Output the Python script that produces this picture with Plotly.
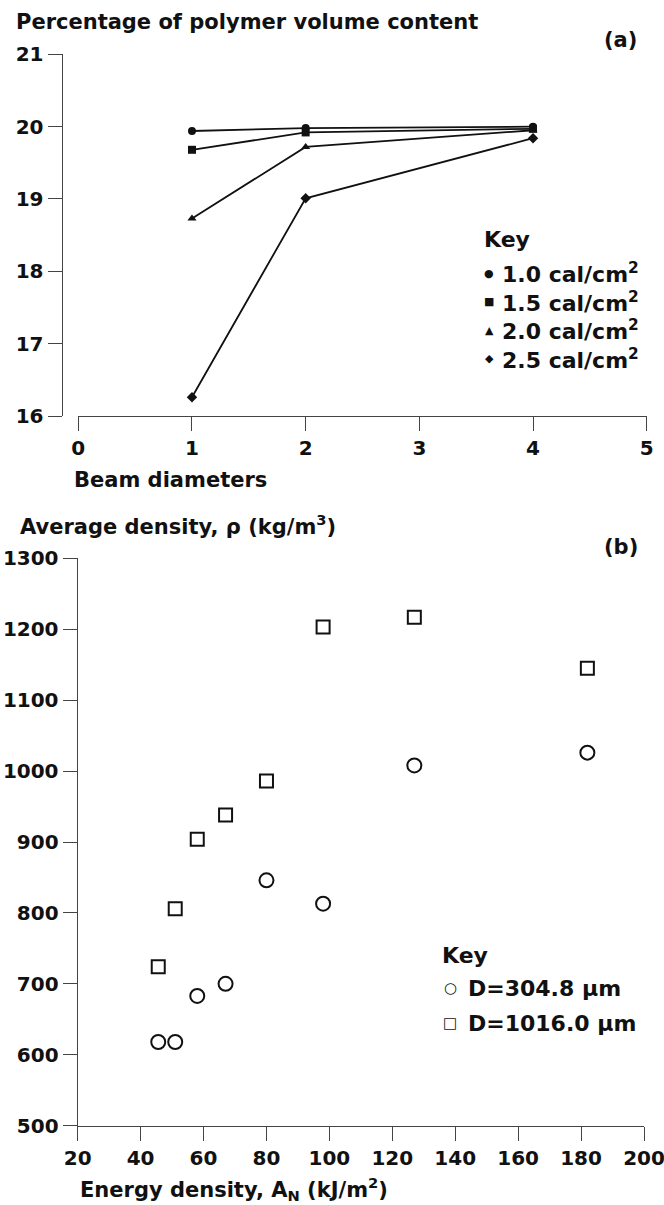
import plotly.graph_objects as go

W, H = 664, 1205
FONT = "DejaVu Sans"
INK = "#111111"
AXIS = "#444444"

# ---- (a) polymer volume content against beam diameters ----
beam_diameters = [1, 2, 4]
fluence_labels = ["1.0 cal/cm<sup>2</sup>", "1.5 cal/cm<sup>2</sup>",
                  "2.0 cal/cm<sup>2</sup>", "2.5 cal/cm<sup>2</sup>"]
volume_1_0 = [19.94, 19.98, 20.00]
volume_1_5 = [19.68, 19.92, 19.97]
volume_2_0 = [18.73, 19.72, 19.95]
volume_2_5 = [16.26, 19.01, 19.84]
symbols_a = ["circle", "square", "triangle-up", "diamond"]
glyphs_a = ["\u25CF", "\u25A0", "\u25B2", "\u25C6"]
sizes_a = [8, 8, 8, 8]

# ---- (b) average density against energy density ----
energy_density = [45.6, 51.0, 58.0, 67.0, 80.0, 98.0, 127.0, 182.0]
density_304 = [618, 618, 683, 700, 846, 813, 1008, 1026]
density_1016 = [724, 806, 904, 938, 986, 1203, 1217, 1145]
diameter_labels = ["D=304.8 \u00b5m", "D=1016.0 \u00b5m"]
glyphs_b = ["\u25CB", "\u25A1"]


def fx(px):
    return px / W


def fy(py):
    return 1 - py / H


fig = go.Figure()

for vals, sym, size in zip([volume_1_0, volume_1_5, volume_2_0, volume_2_5],
                           symbols_a, sizes_a):
    fig.add_trace(go.Scatter(
        x=beam_diameters, y=vals, mode="lines+markers",
        line=dict(color=INK, width=1.8),
        marker=dict(symbol=sym, size=size, color=INK),
        xaxis="x", yaxis="y", showlegend=False, cliponaxis=False,
    ))

fig.add_trace(go.Scatter(
    x=energy_density, y=density_304, mode="markers",
    marker=dict(symbol="circle-open", size=14, color=INK, line=dict(width=2)),
    xaxis="x2", yaxis="y2", showlegend=False,
))
fig.add_trace(go.Scatter(
    x=energy_density, y=density_1016, mode="markers",
    marker=dict(symbol="square-open", size=13, color=INK, line=dict(width=2)),
    xaxis="x2", yaxis="y2", showlegend=False,
))

tickfont = dict(family=FONT, size=20, color=INK, weight="bold")
axis_common = dict(showline=True, linecolor=AXIS, linewidth=1.3,
                   ticks="outside", ticklen=14, tickwidth=1.3, tickcolor=AXIS,
                   showgrid=False, zeroline=False, tickfont=tickfont,
                   automargin=False, fixedrange=True, ticklabeloverflow="allow")

fig.update_layout(
    width=W, height=H,
    margin=dict(l=0, r=0, t=0, b=0, autoexpand=False),
    paper_bgcolor="white", plot_bgcolor="white",
    font=dict(family=FONT, color=INK),
    xaxis=dict(domain=[fx(78.3), fx(646.7)], range=[0, 5], tickvals=[0, 1, 2, 3, 4, 5],
               anchor="y", **axis_common),
    yaxis=dict(domain=[fy(416), fy(54.3)], range=[16, 21], tickvals=[16, 17, 18, 19, 20, 21],
               anchor="free", position=fx(61.7), **axis_common),
    xaxis2=dict(domain=[fx(77.7), fx(644)], range=[20, 200], dtick=20, tick0=20,
                anchor="y2", **axis_common),
    yaxis2=dict(domain=[fy(1125.7), fy(558.3)], range=[500, 1300], dtick=100, tick0=500,
                anchor="x2", **axis_common),
)

text_font = dict(family=FONT, size=21, color=INK, weight="bold")


def label(text, x, y, xanchor="left", size=21):
    fig.add_annotation(text=text, x=fx(x), y=fy(y), xref="paper", yref="paper",
                       xanchor=xanchor, yanchor="middle", showarrow=False,
                       font=dict(text_font, size=size))


label("Percentage of polymer volume content", 14, 22)
label("(a)", 620, 40, xanchor="center")
label("Beam diameters", 72, 480)
label("Average density, \u03c1 (kg/m<sup>3</sup>)", 18, 525)
label("(b)", 621, 547, xanchor="center")
label("Energy density, A<sub>N</sub> (kJ/m<sup>2</sup>)", 78, 1189)

# Key for (a)
label("Key", 482, 240, size=22)
for i, (g, t) in enumerate(zip(glyphs_a, fluence_labels)):
    yy = 273.3 + i * 28.4
    label(g, 489, yy, xanchor="center", size=11)
    label(t, 500, yy, size=22)

# Key for (b)
label("Key", 440, 955, size=22)
for i, (g, t) in enumerate(zip(glyphs_b, diameter_labels)):
    yy = 988 + i * 35.3
    label(g, 450, yy, xanchor="center", size=15)
    label(t, 466, yy, size=22)

fig.write_html("out.html")
